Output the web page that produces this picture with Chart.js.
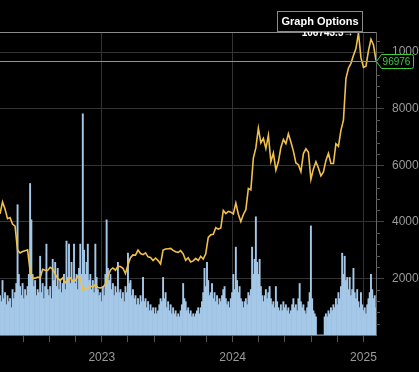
<!DOCTYPE html>
<html><head><meta charset="utf-8">
<script src="https://cdn.jsdelivr.net/npm/chart.js@4.4.1/dist/chart.umd.min.js"></script>
<style>html,body{margin:0;padding:0;background:#000;overflow:hidden}canvas{display:block}</style>
</head><body>
<canvas id="c" width="419" height="372"></canvas>
<script>
// ---- data ----
const startDate = '2022-03-23';
const priceStepDays = 7;     // weekly closes (USD)
const volumeStepDays = 3.5;  // half-week volume samples
const prices = [
  42800, 47000, 44500, 41100, 41500, 39200, 38500, 30000, 29000, 29500,
  29800, 30100, 22600, 20000, 20100, 20500, 20200, 23200, 22900, 22800,
  23900, 23300, 21500, 20000, 19300, 20200, 18500, 19400, 20200, 19200,
  19100, 20800, 20200, 15900, 16700, 16600, 17200, 17000, 17800, 16800,
  16600, 16900, 17900, 20700, 23000, 23700, 22900, 24300, 24200, 23600,
  21700, 24800, 27300, 28300, 28200, 30000, 28800, 28400, 29000, 27600,
  27400, 26300, 27200, 26300, 25100, 30000, 30400, 30500, 30600, 29900,
  29400, 29200, 29800, 28700, 26400, 27300, 25800, 26200, 27100, 26300,
  27800, 26800, 28700, 34500, 35400, 35600, 37900, 37400, 37800, 44000,
  42900, 43700, 43400, 42800, 46600, 42700, 40100, 42600, 44300, 51800,
  51300, 62500, 66100, 73100, 67900, 69500, 65900, 70600, 61300, 64300,
  58300, 61200, 66300, 69100, 67600, 71100, 68200, 65000, 60800, 60200,
  57700, 64100, 65800, 64600, 55000, 58700, 61200, 59000, 56200, 57600,
  61700, 64200, 60600, 60600, 67600, 66700, 72300, 75900, 90600, 94300,
  96000, 98800, 101200, 106743.3, 98000, 94600, 95000, 100500, 104500, 102500,
  96976
];
const volumes = [ // billions USD
  13, 11, 18, 12, 14, 10, 13, 11, 12, 9,
  15, 12, 14, 17, 43, 20, 16, 13, 17, 12,
  15, 13, 16, 20, 50, 38, 20, 16, 18, 13,
  15, 14, 26, 14, 17, 12, 16, 30, 15, 13,
  16, 12, 25, 18, 24, 16, 22, 15, 18, 14,
  17, 20, 15, 31, 19, 30, 17, 24, 18, 30,
  17, 20, 15, 22, 30, 20, 73, 28, 20, 24,
  30, 18, 20, 15, 18, 14, 30, 19, 15, 13,
  14, 11, 16, 13, 20, 38, 22, 18, 20, 15,
  17, 13, 16, 14, 24, 14, 15, 12, 14, 11,
  16, 14, 27, 17, 18, 13, 15, 12, 13, 10,
  12, 10, 13, 11, 19, 11, 12, 9, 11, 8,
  10, 8, 9, 7, 9, 7, 8, 10, 12, 11,
  19, 12, 14, 9, 11, 8, 10, 7, 9, 7,
  8, 6, 7, 6, 8, 10, 17, 12, 11, 8,
  9, 7, 8, 6, 7, 6, 7, 8, 9, 7,
  9, 11, 14, 22, 16, 24, 18, 13, 14, 17,
  12, 14, 11, 13, 10, 12, 11, 13, 15, 16,
  12, 10, 11, 9, 12, 14, 20, 15, 29, 18,
  14, 16, 12, 11, 9, 11, 12, 10, 14, 13,
  15, 29, 20, 25, 39, 24, 20, 25, 16, 13,
  11, 13, 15, 12, 14, 16, 12, 10, 11, 9,
  16, 11, 9, 8, 10, 8, 11, 9, 10, 8,
  9, 7, 8, 10, 12, 9, 10, 8, 12, 17,
  11, 9, 10, 8, 7, 9, 11, 14, 36, 12,
  8, 7, 6, 0, 0, 0, 0, 0, 0, 6,
  7, 6, 8, 7, 9, 8, 10, 9, 12, 10,
  14, 12, 16, 27, 20, 26, 18, 19, 15, 19,
  13, 15, 22, 14, 12, 15, 11, 9, 14, 10,
  8, 9, 7, 10, 12, 14, 20, 15, 12, 13,
  9
];
const yearTicks = [2023, 2024, 2025];
const priceTicks = [20000, 40000, 60000, 80000, 100000];
const lastPrice = 96976;
const priceMax = 107080;
const volumeMax = 100;

// ---- helpers ----
const DAY = 86400000;
function toYear(t) {
  const y = new Date(t).getUTCFullYear();
  const a = Date.UTC(y, 0, 1), b = Date.UTC(y + 1, 0, 1);
  return y + (t - a) / (b - a);
}
const t0 = Date.parse(startDate + 'T00:00:00Z');
const priceX = prices.map((_, i) => toYear(t0 + i * priceStepDays * DAY));
const volX = volumes.map((_, i) => toYear(t0 + i * volumeStepDays * DAY));
const pricePts = prices.map((v, i) => ({x: priceX[i], y: v}));
const volPts = volumes.map((v, i) => ({x: volX[i], y: v}));
const isYear = v => Math.abs(v - Math.round(v)) < 1e-6;

const FONT = "'Liberation Sans', Arial, sans-serif";

const decor = {
  id: 'decor',
  afterDraw(chart) {
    const {ctx, chartArea: a, scales: {x, y}} = chart;
    ctx.save();
    // minor ticks on price axis
    ctx.strokeStyle = '#555'; ctx.lineWidth = 1;
    for (let v = 4000; v < y.max; v += 4000) {
      if (v % 20000 === 0) continue;
      const py = Math.round(y.getPixelForValue(v)) + 0.5;
      ctx.beginPath(); ctx.moveTo(a.right, py); ctx.lineTo(a.right + 4, py); ctx.stroke();
    }
    // top border
    ctx.lineWidth = 1; ctx.strokeStyle = '#8a8a8a';
    ctx.beginPath(); ctx.moveTo(a.left, a.top + 0.5); ctx.lineTo(a.right, a.top + 0.5); ctx.stroke();
    // max label
    let mi = 0; prices.forEach((v, i) => { if (v > prices[mi]) mi = i; });
    const mx = x.getPixelForValue(priceX[mi]);
    ctx.font = 'bold 10px ' + FONT;
    ctx.textAlign = 'right'; ctx.textBaseline = 'middle';
    ctx.fillStyle = '#fff';
    ctx.fillText(prices[mi].toFixed(1) + '\u2192', mx - 5, a.top + 1.5);
    // last price line
    const ly = Math.round(y.getPixelForValue(lastPrice)) + 0.5;
    ctx.strokeStyle = '#3ccf3c';
    ctx.beginPath(); ctx.moveTo(a.left, ly); ctx.lineTo(a.right, ly); ctx.stroke();
    const bx = a.right + 0.5, bw = 37;
    ctx.beginPath();
    ctx.moveTo(bx, ly);
    ctx.lineTo(bx + 5, ly - 7);
    ctx.lineTo(bx + bw - 2, ly - 7);
    ctx.quadraticCurveTo(bx + bw, ly - 7, bx + bw, ly - 5);
    ctx.lineTo(bx + bw, ly + 5);
    ctx.quadraticCurveTo(bx + bw, ly + 7, bx + bw - 2, ly + 7);
    ctx.lineTo(bx + 5, ly + 7);
    ctx.closePath();
    ctx.fillStyle = '#000'; ctx.fill(); ctx.stroke();
    ctx.fillStyle = '#3ccf3c'; ctx.font = '10px ' + FONT;
    ctx.textAlign = 'center'; ctx.textBaseline = 'middle';
    ctx.fillText(String(lastPrice), bx + 20, ly + 0.5);
    // Graph Options button
    ctx.fillStyle = '#000';
    ctx.fillRect(277.5, 11.5, 85, 20);
    ctx.strokeStyle = '#8a8a8a';
    ctx.strokeRect(277.5, 11.5, 85, 20);
    ctx.fillStyle = '#fff'; ctx.font = 'bold 11px ' + FONT;
    ctx.fillText('Graph Options', 320, 22);
    ctx.restore();
  }
};

new Chart(document.getElementById('c'), {
  type: 'bar',
  data: {
    datasets: [
      {type: 'line', data: pricePts, yAxisID: 'y', xAxisID: 'x', borderColor: '#f0c04a', borderWidth: 1.6,
       pointRadius: 0, tension: 0, order: 0},
      {type: 'bar', data: volPts, yAxisID: 'yv', xAxisID: 'x', backgroundColor: '#a5c8e8', borderWidth: 0,
       barPercentage: 1, categoryPercentage: 1, order: 1}
    ]
  },
  options: {
    responsive: false, animation: false, events: [],
    devicePixelRatio: 1,
    layout: {padding: {top: 32, left: 0, right: 0, bottom: 0}},
    plugins: {legend: {display: false}, tooltip: {enabled: false}},
    scales: {
      x: {
        type: 'linear', position: 'bottom', offset: false,
        min: priceX[0], max: priceX[priceX.length - 1],
        afterBuildTicks(s) {
          const t = [];
          for (let k = 2; k <= 15; k++) t.push({value: Math.round((2022 + k * 0.2) * 1000) / 1000});
          s.ticks = t.filter(o => o.value > s.min && o.value <= s.max);
        },
        afterFit(s) { s.height = 37; },
        ticks: {
          autoSkip: false, maxRotation: 0, padding: 8, color: '#9a9a9a',
          font: {family: FONT, size: 12},
          callback: v => (isYear(v) && yearTicks.includes(Math.round(v))) ? String(Math.round(v)) : ''
        },
        grid: {
          offset: false, tickLength: 7,
          color: c => (c.tick && isYear(c.tick.value)) ? '#333' : 'rgba(0,0,0,0)',
          tickColor: '#555'
        },
        border: {color: '#6a6a6a'}
      },
      y: {
        type: 'linear', position: 'right', min: 0, max: priceMax,
        afterBuildTicks(s) { s.ticks = priceTicks.map(v => ({value: v})); },
        afterFit(s) { s.width = 43; },
        ticks: {padding: 8, color: '#9a9a9a', font: {family: FONT, size: 12}, callback: v => String(v)},
        grid: {color: '#333', tickColor: '#444', tickLength: 8},
        border: {color: '#666'}
      },
      yv: {type: 'linear', display: false, min: 0, max: volumeMax, grid: {display: false}}
    }
  },
  plugins: [decor]
});
</script>
</body></html>
